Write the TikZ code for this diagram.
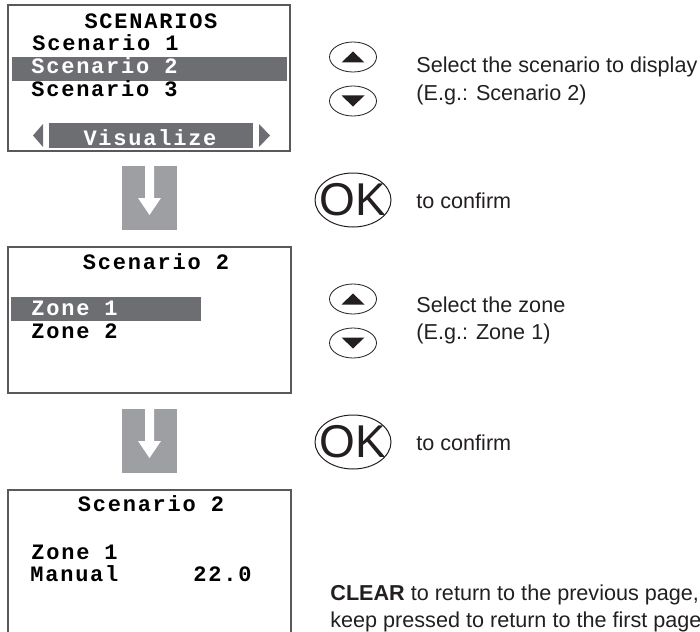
\documentclass[tikz,border=0pt]{standalone}
\usepackage{fontspec}
\setmainfont{Liberation Sans}
\newfontfamily\lcdfont[LetterSpace=8]{Liberation Mono}
\usetikzlibrary{shapes.geometric}
\definecolor{framegray}{HTML}{58595B}
\definecolor{barcol}{HTML}{6D6E71}
\definecolor{arrowcol}{HTML}{9D9FA2}
\definecolor{inkcol}{HTML}{231F20}

\begin{document}
\begin{tikzpicture}[x=0.5pt,y=-0.5pt,
    lcd/.style={anchor=base west,inner sep=0pt,font=\lcdfont\bfseries\fontsize{11}{11}\selectfont},
    lcdinv/.style={lcd,text=white},
    screen/.style={draw=framegray,line width=0.8pt},
    key/.style={draw=inkcol,ellipse,minimum width=23.5pt,minimum height=15pt,inner sep=0pt,line width=0.4pt},
    okkey/.style={draw=inkcol,ellipse,minimum width=38pt,minimum height=27pt,inner sep=0pt,line width=0.5pt},
    oktext/.style={inner sep=0pt,text=inkcol,font=\fontsize{23}{23}\selectfont},
    hint/.style={anchor=base west,inner sep=0pt,text=inkcol,font=\fontsize{10.8}{13}\selectfont}]
    \useasboundingbox (0,0) rectangle (700,631);
    % screen 1: list of scenarios
    \draw[screen] (8,5) rectangle (290,151);
    \fill[barcol] (12,57) rectangle (287,81);
    \node[lcd,anchor=base] (s1title) at (151,29) {SCENARIOS};
    \node[lcd] (s1a) at (32,51) {Scenario 1};
    \node[lcdinv] (s1b) at (31,74) {Scenario 2};
    \node[lcd] (s1c) at (31,97) {Scenario 3};
    \fill[barcol] (49,123) rectangle (253,148);
    \fill[barcol] (43,124) -- (43,147) -- (33,135.5) -- cycle;
    \fill[barcol] (259,124) -- (259,147) -- (270,135.5) -- cycle;
    \node[lcdinv,anchor=base] (s1vis) at (150,145) {Visualize};
    % screen 2: zones of the scenario
    \draw[screen] (8,247) rectangle (291,393);
    \fill[barcol] (11,297) rectangle (201,321);
    \node[lcd,anchor=base] (s2title) at (156,269) {Scenario 2};
    \node[lcdinv] (s2a) at (31,315) {Zone 1};
    \node[lcd] (s2b) at (31,338) {Zone 2};
    % screen 3: zone state (cut at the bottom)
    \draw[screen] (8,640) -- (8,490) -- (291,490) -- (291,640);
    \node[lcd,anchor=base] (s3title) at (151,511) {Scenario 2};
    \node[lcd] (s3a) at (31,559) {Zone 1};
    \node[lcd] (s3b) at (30,581) {Manual};
    \node[lcd] (s3c) at (193,581) {22.0};
    % grey step arrows between the screens
    \foreach \y in {166,409} {
      \fill[arrowcol] (122,\y) rectangle (177,\y+64);
      \fill[white] (145,\y) -- (154,\y) -- (154,\y+32) -- (161,\y+32) -- (149.5,\y+49) -- (138,\y+32) -- (145,\y+32) -- cycle;
    }
    % up/down keys and OK key, one group per step
    \foreach \g/\dy in {1/0,2/242} {
      \node[key] (up\g) at (353,57+\dy) {};
      \node[key] (down\g) at (353,101+\dy) {};
      \fill[inkcol,shift={(up\g.center)}] (-11.5,5.5) -- (11.5,5.5) -- (0,-5.5) -- cycle;
      \fill[inkcol,shift={(down\g.center)}] (-11.5,-5.5) -- (11.5,-5.5) -- (0,5.5) -- cycle;
      \node[okkey] (ok\g) at (353,200+\dy) {};
      \node[oktext] (oklbl\g) at (ok\g) {OK};
      \node[hint] (conf\g) at (416,208+\dy) {to confirm};
    }
    \node[hint] (sel1) at (416,73) {Select the scenario to display};
    \node[hint] (eg1) at (416,100) {(E.g.: Scenario 2)};
    \node[hint] (sel2) at (416,312) {Select the zone};
    \node[hint] (eg2) at (416,339) {(E.g.: Zone 1)};
    \node[hint] (clr) at (330,600) {\textbf{CLEAR} to return to the previous page,};
    \node[hint] (keep) at (330,627) {keep pressed to return to the first page};
  \end{tikzpicture}
\end{document}
